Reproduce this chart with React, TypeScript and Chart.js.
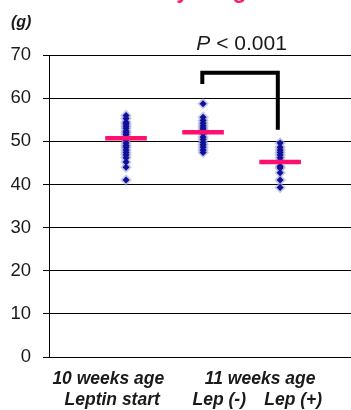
import React, { useEffect, useRef } from "react";
import { Chart, registerables } from "chart.js";

Chart.register(...registerables);

const groupPositions = [1, 2, 3];
const group1Values = [56, 55.3, 54.4, 54, 53.5, 53, 52.4, 52, 51.5, 50.8, 50.3, 49.6, 49, 48.6, 48, 47.4, 46.8, 46.2, 45.2, 44, 41];
const group2Values = [58.7, 55.6, 54.8, 54.2, 53.6, 53.1, 52.6, 51.8, 51, 50.4, 49.7, 49.2, 48.6, 48, 47.4];
const group3Values = [49.6, 48.6, 48, 47.4, 46.8, 46.2, 45.5, 44.2, 43.8, 42.7, 41, 39.3];
const groupMeans = [50.7, 52.1, 45.2];
const meanHalfWidth = 0.27;
const bracketXs = [1.99, 1.99, 2.97, 2.97];
const bracketYs = [63.3, 65.9, 65.9, 52.7];
const yTickValues = [0, 10, 20, 30, 40, 50, 60, 70];
const titleText = "Body weight";
const unitText = "(g)";
const pItalic = "P";
const pRest = " < 0.001";
const pTextX = 2.5;
const pTextY = 72.6;
const xLabelTexts = ["10 weeks age", "Leptin start", "11 weeks age", "Lep (-)", "Lep (+)"];
const xLabelAnchors = [0.77, 0.82, 2.74, 2.21, 3.17];
const xLabelRows = [0, 1, 0, 1, 1];

const FONT = "'Liberation Sans', Arial, sans-serif";

export default function App() {
  const ref = useRef<HTMLCanvasElement | null>(null);

  useEffect(() => {
    if (!ref.current) return;
    const groups = [group1Values, group2Values, group3Values];
    const coreSets: any[] = [];
    const haloSets: any[] = [];
    groups.forEach((vals, i) => {
      const pts = vals.map((v) => ({ x: groupPositions[i], y: v }));
      haloSets.push({
        type: "scatter",
        data: pts,
        pointStyle: "rectRot",
        pointRadius: 5.8,
        backgroundColor: "rgba(150,156,205,0.55)",
        borderWidth: 0,
        order: 3,
      });
      coreSets.push({
        type: "scatter",
        data: pts,
        pointStyle: "rectRot",
        pointRadius: 3.5,
        backgroundColor: "#10109a",
        borderWidth: 0,
        order: 2,
      });
    });
    const meanSets = groupMeans.map((m, i) => ({
      type: "line",
      data: [
        { x: groupPositions[i] - meanHalfWidth, y: m },
        { x: groupPositions[i] + meanHalfWidth, y: m },
      ],
      borderColor: "#ff1070",
      borderWidth: 4.5,
      pointRadius: 0,
      borderCapStyle: "butt",
      order: 1,
    }));
    const bracketSet = {
      type: "line",
      data: bracketXs.map((x, i) => ({ x, y: bracketYs[i] })),
      borderColor: "#000",
      borderWidth: 4,
      pointRadius: 0,
      borderCapStyle: "butt",
      borderJoinStyle: "miter",
      order: 0,
    };

    const textPlugin = {
      id: "texts",
      afterDraw(chart: any) {
        const ctx = chart.ctx;
        const xs = chart.scales.x;
        ctx.save();
        // title (cut off at top)
        ctx.fillStyle = "#ff1a75";
        ctx.font = `bold 23px ${FONT}`;
        ctx.textAlign = "center";
        ctx.textBaseline = "alphabetic";
        ctx.fillText(titleText, 200, -2.5);
        // unit
        ctx.fillStyle = "#1a1a1a";
        ctx.font = `italic bold 16px ${FONT}`;
        ctx.textAlign = "left";
        ctx.textBaseline = "middle";
        ctx.fillText(unitText, 11, 23);
        // P value
        ctx.font = `italic 21px ${FONT}`;
        const wP = ctx.measureText(pItalic).width;
        ctx.font = `21px ${FONT}`;
        const wR = ctx.measureText(pRest).width;
        const cx = xs.getPixelForValue(pTextX);
        const cy = chart.scales.y.getPixelForValue(pTextY);
        let left = cx - (wP + wR) / 2;
        ctx.fillStyle = "#1a1a1a";
        ctx.textAlign = "left";
        ctx.font = `italic 21px ${FONT}`;
        ctx.fillText(pItalic, left, cy);
        ctx.font = `21px ${FONT}`;
        ctx.fillText(pRest, left + wP, cy);
        // x labels
        ctx.font = `italic bold 17.5px ${FONT}`;
        ctx.textAlign = "center";
        const rowY = [379, 400];
        xLabelTexts.forEach((t, i) => {
          ctx.fillText(t, xs.getPixelForValue(xLabelAnchors[i]), rowY[xLabelRows[i]]);
        });
        ctx.restore();
      },
    };

    const chart = new Chart(ref.current, {
      type: "scatter",
      data: { datasets: [...haloSets, ...coreSets, ...meanSets, bracketSet] as any },
      options: {
        animation: false,
        responsive: false,
        maintainAspectRatio: false,
        layout: { autoPadding: false, padding: { top: 55, bottom: 53, left: 0, right: 0 } },
        plugins: { legend: { display: false }, tooltip: { enabled: false }, title: { display: false } },
        scales: {
          x: {
            type: "linear",
            min: 0,
            max: 3.92,
            display: false,
          },
          y: {
            type: "linear",
            min: 0,
            max: 70,
            afterBuildTicks: (s: any) => {
              s.ticks = yTickValues.map((v) => ({ value: v }));
            },
            afterFit: (s: any) => {
              s.width = 49;
            },
            ticks: {
              color: "#1a1a1a",
              font: { family: FONT, size: 18.5 },
              padding: 12,
            },
            grid: {
              color: "#000",
              lineWidth: 1,
              tickLength: 6,
              drawTicks: true,
            },
            border: { display: true, color: "#000", width: 1 },
          },
        },
      },
      plugins: [textPlugin],
    });
    return () => chart.destroy();
  }, []);

  return (
    <div style={{ position: "absolute", left: 0, top: 0, width: 351, height: 410, background: "#fff" }}>
      <canvas ref={ref} width={351} height={410} style={{ width: 351, height: 410, display: "block" }} />
    </div>
  );
}
